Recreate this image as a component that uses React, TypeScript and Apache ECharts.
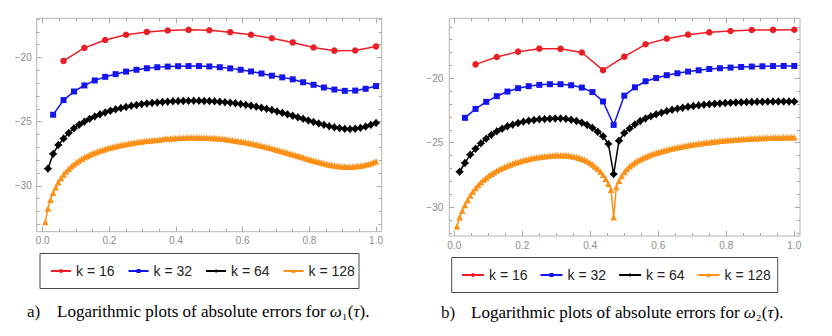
import React, { useEffect, useRef } from "react";
import * as echarts from "echarts";

// ---------- data ----------
const K_LABELS = ["k = 16", "k = 32", "k = 64", "k = 128"];
const K_VALUES = [16, 32, 64, 128];

const X_MAJOR = [0, 0.2, 0.4, 0.6, 0.8, 1.0];
const X_MINOR = [0.05, 0.1, 0.15, 0.25, 0.3, 0.35, 0.45, 0.5, 0.55, 0.65, 0.7, 0.75, 0.85, 0.9, 0.95];
const Y_MAJOR = [-30, -25, -20];
const Y_MINOR_A = [-33, -32, -31, -29, -28, -27, -26, -24, -23, -22, -21, -19, -18, -17];
const Y_MINOR_B = [-32, -31, -29, -28, -27, -26, -24, -23, -22, -21, -19, -18, -17, -16];

// panel a) : log10 absolute errors for omega_1(tau); node i/k, i = 1..k
const A_K16 = [-20.27, -19.25, -18.64, -18.23, -18.01, -17.9, -17.85, -17.88, -18.03, -18.23, -18.5, -18.83, -19.22, -19.47, -19.46, -19.14];
const A_K32 = [
  -24.46, -23.32, -22.65, -22.18, -21.79, -21.51, -21.3, -21.1,
  -20.96, -20.84, -20.76, -20.71, -20.68, -20.67, -20.67, -20.7,
  -20.76, -20.85, -20.96, -21.09, -21.25, -21.42, -21.55, -21.7,
  -21.93, -22.13, -22.34, -22.5, -22.6, -22.58, -22.44, -22.23,
];
const A_K64 = [
  -28.66, -27.51, -26.81, -26.32, -25.88, -25.52, -25.24, -25.0,
  -24.78, -24.59, -24.43, -24.28, -24.15, -24.04, -23.94, -23.85,
  -23.77, -23.7, -23.64, -23.58, -23.54, -23.5, -23.47, -23.44,
  -23.42, -23.4, -23.39, -23.38, -23.38, -23.38, -23.39, -23.4,
  -23.42, -23.45, -23.48, -23.52, -23.57, -23.63, -23.69, -23.76,
  -23.83, -23.91, -24.0, -24.1, -24.2, -24.31, -24.42, -24.54,
  -24.66, -24.78, -24.9, -25.02, -25.14, -25.25, -25.35, -25.44,
  -25.51, -25.56, -25.58, -25.55, -25.48, -25.38, -25.25, -25.1,
];
const A_K128 = [
  -32.82, -31.76, -31.09, -30.54, -30.1, -29.72, -29.4, -29.12,
  -28.88, -28.67, -28.48, -28.31, -28.16, -28.02, -27.89, -27.78,
  -27.67, -27.57, -27.48, -27.4, -27.32, -27.25, -27.18, -27.12,
  -27.06, -27.01, -26.96, -26.91, -26.86, -26.82, -26.78, -26.74,
  -26.7, -26.67, -26.63, -26.6, -26.57, -26.54, -26.51, -26.49,
  -26.46, -26.44, -26.42, -26.4, -26.38, -26.36, -26.34, -26.32,
  -26.31, -26.29, -26.28, -26.27, -26.26, -26.25, -26.24, -26.24,
  -26.23, -26.23, -26.23, -26.23, -26.24, -26.24, -26.25, -26.26,
  -26.27, -26.28, -26.3, -26.32, -26.34, -26.36, -26.38, -26.41,
  -26.44, -26.47, -26.5, -26.54, -26.57, -26.61, -26.65, -26.69,
  -26.73, -26.78, -26.82, -26.87, -26.92, -26.97, -27.02, -27.07,
  -27.13, -27.18, -27.24, -27.3, -27.36, -27.42, -27.48, -27.54,
  -27.6, -27.66, -27.72, -27.78, -27.84, -27.9, -27.96, -28.02,
  -28.08, -28.13, -28.19, -28.24, -28.29, -28.33, -28.37, -28.41,
  -28.44, -28.47, -28.49, -28.5, -28.51, -28.51, -28.5, -28.48,
  -28.46, -28.43, -28.39, -28.34, -28.29, -28.23, -28.16, -28.08,
];

// panel b) : log10 absolute errors for omega_2(tau)
const B_K16 = [-18.92, -18.35, -17.93, -17.7, -17.71, -18.0, -19.37, -18.32, -17.36, -16.92, -16.61, -16.43, -16.33, -16.25, -16.24, -16.23];
const B_K32 = [
  -23.07, -22.38, -21.83, -21.39, -21.03, -20.77, -20.61, -20.51,
  -20.46, -20.46, -20.54, -20.72, -21.07, -21.8, -23.62, -21.35,
  -20.7, -20.23, -19.98, -19.76, -19.61, -19.48, -19.38, -19.28,
  -19.22, -19.17, -19.12, -19.09, -19.07, -19.05, -19.04, -19.04,
];
const B_K64 = [
  -27.26, -26.58, -25.93, -25.47, -25.05, -24.69, -24.38, -24.12,
  -23.92, -23.73, -23.6, -23.47, -23.37, -23.29, -23.24, -23.19,
  -23.17, -23.14, -23.12, -23.12, -23.15, -23.22, -23.32, -23.45,
  -23.62, -23.85, -24.15, -24.5, -25.1, -27.44, -24.85, -24.25,
  -23.9, -23.58, -23.32, -23.12, -22.95, -22.8, -22.67, -22.55,
  -22.45, -22.36, -22.28, -22.21, -22.15, -22.1, -22.05, -22.01,
  -21.98, -21.95, -21.92, -21.9, -21.88, -21.86, -21.85, -21.84,
  -21.83, -21.82, -21.81, -21.81, -21.8, -21.8, -21.8, -21.8,
];
const B_K128 = [
  -31.5, -30.8, -30.29, -29.84, -29.45, -29.1, -28.8, -28.53,
  -28.29, -28.08, -27.89, -27.72, -27.56, -27.42, -27.29, -27.17,
  -27.06, -26.96, -26.87, -26.78, -26.7, -26.62, -26.55, -26.48,
  -26.42, -26.36, -26.31, -26.26, -26.22, -26.18, -26.14, -26.11,
  -26.08, -26.05, -26.03, -26.01, -25.99, -25.98, -25.97, -25.97,
  -25.97, -25.98, -26.0, -26.03, -26.07, -26.12, -26.18, -26.25,
  -26.33, -26.43, -26.55, -26.69, -26.85, -27.03, -27.24, -27.5,
  -27.8, -28.2, -28.65, -30.8, -28.45, -27.95, -27.58, -27.28,
  -27.04, -26.84, -26.67, -26.52, -26.39, -26.28, -26.18, -26.09,
  -26.0, -25.92, -25.85, -25.78, -25.72, -25.66, -25.6, -25.55,
  -25.5, -25.45, -25.4, -25.36, -25.32, -25.28, -25.24, -25.2,
  -25.17, -25.13, -25.1, -25.07, -25.04, -25.01, -24.98, -24.96,
  -24.93, -24.91, -24.89, -24.86, -24.84, -24.82, -24.8, -24.79,
  -24.77, -24.75, -24.74, -24.72, -24.71, -24.7, -24.68, -24.67,
  -24.66, -24.65, -24.64, -24.63, -24.62, -24.62, -24.61, -24.6,
  -24.6, -24.59, -24.59, -24.58, -24.58, -24.58, -24.57, -24.57,
];

const A_SERIES = [A_K16, A_K32, A_K64, A_K128];
const B_SERIES = [B_K16, B_K32, B_K64, B_K128];

// ---------- style ----------
const COLORS = ["#ee1c24", "#1414ee", "#000000", "#ff9017"];
const STAR = "path://M0,-1 L0.45,-0.45 L1,0 L0.45,0.45 L0,1 L-0.45,0.45 L-1,0 L-0.45,-0.45 Z";
const SYMBOLS = ["circle", "rect", STAR, "triangle"];
const SYMBOL_SIZES = [6.5, 6, 8.5, 6.5];
const FRAME = "#b4b4b4";
const TICK = "#a8a8a8";
const LABEL = "#8c8c8c";
const SANS = "'Liberation Sans', Arial, sans-serif";
const SERIF = "'Liberation Serif', 'Times New Roman', serif";

function fmtY(v: number) {
  return (v < 0 ? "\u2212" : "") + Math.abs(v);
}

function tick(vals: number[], len: number) {
  return { show: true, inside: true, length: len, customValues: vals, lineStyle: { color: TICK, width: 1 } };
}

function panelAxes(g: number, xr: number[], yr: number[], yMinor: number[], fs: number, xm: number, ym: number) {
  const xBase = { gridIndex: g, type: "value", min: xr[0], max: xr[1], axisLine: { show: false, onZero: false }, splitLine: { show: false } };
  const yBase = { gridIndex: g, type: "value", min: yr[0], max: yr[1], axisLine: { show: false, onZero: false }, splitLine: { show: false } };
  const off = { show: false };
  const xAxes = [
    { ...xBase, position: "bottom", axisTick: tick(X_MAJOR, 5), axisLabel: { show: true, customValues: X_MAJOR, formatter: (v: number) => v.toFixed(1), color: LABEL, fontSize: fs, fontFamily: SANS, margin: xm } },
    { ...xBase, position: "bottom", axisTick: tick(X_MINOR, 3), axisLabel: off },
    { ...xBase, position: "top", axisTick: tick(X_MAJOR, 5), axisLabel: off },
    { ...xBase, position: "top", axisTick: tick(X_MINOR, 3), axisLabel: off },
  ];
  const yAxes = [
    { ...yBase, position: "left", axisTick: tick(Y_MAJOR, 5), axisLabel: { show: true, customValues: Y_MAJOR, formatter: fmtY, color: LABEL, fontSize: fs, fontFamily: SANS, margin: ym } },
    { ...yBase, position: "left", axisTick: tick(yMinor, 3), axisLabel: off },
    { ...yBase, position: "right", axisTick: tick(Y_MAJOR, 5), axisLabel: off },
    { ...yBase, position: "right", axisTick: tick(yMinor, 3), axisLabel: off },
  ];
  return { xAxes, yAxes };
}

function panelSeries(sets: number[][], axisIndex: number) {
  return sets.map((vals, s) => ({
    type: "line",
    name: K_LABELS[s],
    xAxisIndex: axisIndex,
    yAxisIndex: axisIndex,
    data: vals.map((v, i) => [(i + 1) / K_VALUES[s], v]),
    symbol: SYMBOLS[s],
    symbolSize: SYMBOL_SIZES[s],
    showSymbol: true,
    showAllSymbol: true,
    itemStyle: { color: COLORS[s] },
    lineStyle: { color: COLORS[s], width: 1.5 },
    z: 2 + s,
  }));
}

export default function App() {
  const ref = useRef<HTMLDivElement>(null);
  useEffect(() => {
    if (!ref.current) return;
    const chart = echarts.init(ref.current, null, { renderer: "svg" });
    const a = panelAxes(0, [-0.018, 1.017], [-33.57, -16.95], Y_MINOR_A, 10, 4, 5);
    const b = panelAxes(1, [-0.0147, 1.0168], [-32.25, -15.34], Y_MINOR_B, 10, 4, 6);
    const legendBase = {
      data: K_LABELS,
      orient: "horizontal",
      padding: 0,
      itemHeight: 5,
      selectedMode: false,
      textStyle: { fontSize: 14, color: "#222", fontFamily: SANS },
    };
    const rich = {
      n: { fontFamily: SERIF, fontSize: 17, color: "#111" },
      i: { fontFamily: SERIF, fontSize: 17, fontStyle: "italic", color: "#111" },
    };
    chart.setOption({
      animation: false,
      backgroundColor: "#ffffff",
      grid: [
        { left: 36.7, top: 18.3, width: 345, height: 213.4, show: true, borderColor: FRAME, borderWidth: 1, backgroundColor: "transparent", containLabel: false },
        { left: 449.3, top: 18.3, width: 350.7, height: 217.7, show: true, borderColor: FRAME, borderWidth: 1, backgroundColor: "transparent", containLabel: false },
      ],
      xAxis: [...a.xAxes, ...b.xAxes],
      yAxis: [...a.yAxes, ...b.yAxes],
      legend: [
        { ...legendBase, left: 50, top: 264, itemWidth: 20, itemGap: 13 },
        { ...legendBase, left: 461, top: 268, itemWidth: 22, itemGap: 12 },
      ],
      series: [...panelSeries(A_SERIES, 0), ...panelSeries(B_SERIES, 4)],
      graphic: [
        { type: "rect", shape: { x: 40, y: 253.5, width: 319, height: 35 }, style: { fill: "none", stroke: "#4a4a4a", lineWidth: 1 }, silent: true },
        { type: "rect", shape: { x: 451.7, y: 257.5, width: 326, height: 35 }, style: { fill: "none", stroke: "#4a4a4a", lineWidth: 1 }, silent: true },
        { type: "text", x: 27, y: 311, style: { text: "a)", font: `17px ${SERIF}`, fill: "#111", verticalAlign: "middle" }, silent: true },
        { type: "text", x: 57, y: 311, style: { text: "{n|Logarithmic plots of absolute errors for }{i|ω}{n|₁(}{i|τ}{n|).}", rich, verticalAlign: "middle" }, silent: true },
        { type: "text", x: 441, y: 312, style: { text: "b)", font: `17px ${SERIF}`, fill: "#111", verticalAlign: "middle" }, silent: true },
        { type: "text", x: 471, y: 312, style: { text: "{n|Logarithmic plots of absolute errors for }{i|ω}{n|₂(}{i|τ}{n|).}", rich, verticalAlign: "middle" }, silent: true },
      ],
    });
    return () => chart.dispose();
  }, []);
  return <div ref={ref} style={{ position: "absolute", left: 0, top: 0, width: 832, height: 336 }} />;
}
